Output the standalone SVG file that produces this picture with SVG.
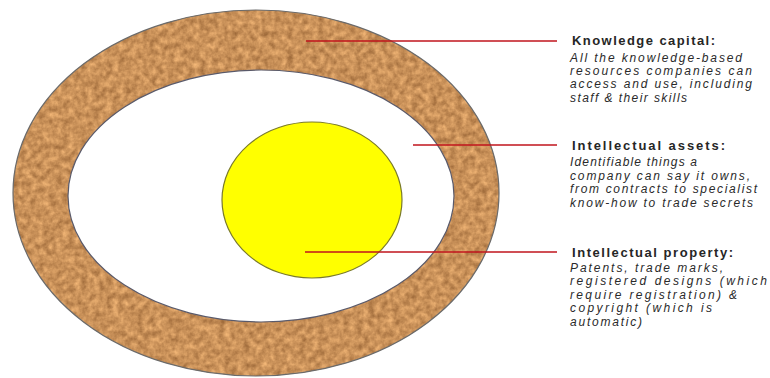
<svg xmlns="http://www.w3.org/2000/svg" width="770" height="378" viewBox="0 0 770 378">
<style>
.title{font-family:"Liberation Sans",Arial,sans-serif;font-size:13px;font-weight:bold;fill:#262626}
.desc{font-family:"Liberation Sans",Arial,sans-serif;font-size:12px;font-style:italic;fill:#2a2a2a}
.conn{stroke:#c0141c;stroke-width:1.5;fill:none}
</style>
<defs>
<filter id="cork" x="0" y="0" width="100%" height="100%" color-interpolation-filters="sRGB">
<feTurbulence type="fractalNoise" baseFrequency="0.16" numOctaves="3" seed="4" result="n"/>
<feColorMatrix in="n" type="matrix" values="0.42 0 0 0 0.58  0.38 0 0 0 0.38  0.3 0 0 0 0.2  0 0 0 0 1" result="c"/>
<feComposite in="c" in2="SourceGraphic" operator="in"/>
</filter>
</defs>
<rect width="770" height="378" fill="#ffffff"/>
<g id="knowledge-capital">
<ellipse cx="256" cy="193" rx="243" ry="183" fill="#c8915e"/>
<ellipse cx="256" cy="193" rx="243" ry="183" fill="#c8915e" filter="url(#cork)"/>
<ellipse cx="256" cy="193" rx="243" ry="183" fill="none" stroke="#6b6b6b" stroke-width="1.2"/>
</g>
<g id="intellectual-assets">
<ellipse cx="261" cy="196" rx="193" ry="126" fill="#ffffff" stroke="#5a5a6a" stroke-width="1.2"/>
</g>
<g id="intellectual-property">
<ellipse cx="312" cy="200" rx="90" ry="78" fill="#ffff00" stroke="#7a7a2a" stroke-width="1.2"/>
</g>
<g id="connectors">
<line class="conn" x1="306" y1="41" x2="557" y2="41"/>
<line class="conn" x1="413" y1="145" x2="557" y2="145"/>
<line class="conn" x1="305" y1="252" x2="557" y2="252"/>
</g>
<g id="label-knowledge-capital">
<text class="title" x="572" y="45" textLength="143" lengthAdjust="spacing">Knowledge capital:</text>
<text class="desc" x="570" y="62" textLength="172" lengthAdjust="spacing">All the knowledge-based</text>
<text class="desc" x="570" y="75" textLength="182" lengthAdjust="spacing">resources companies  can</text>
<text class="desc" x="570" y="88" textLength="182" lengthAdjust="spacing">access and use, including</text>
<text class="desc" x="570" y="102" textLength="117" lengthAdjust="spacing">staff &amp; their skills</text>
</g>
<g id="label-intellectual-assets">
<text class="title" x="572" y="150" textLength="153" lengthAdjust="spacing">Intellectual assets:</text>
<text class="desc" x="570" y="166" textLength="127" lengthAdjust="spacing">Identifiable things a</text>
<text class="desc" x="570" y="180" textLength="180" lengthAdjust="spacing">company can say it owns,</text>
<text class="desc" x="570" y="193" textLength="187" lengthAdjust="spacing">from contracts to specialist</text>
<text class="desc" x="570" y="207" textLength="183" lengthAdjust="spacing">know-how to trade secrets</text>
</g>
<g id="label-intellectual-property">
<text class="title" x="572" y="257" textLength="161" lengthAdjust="spacing">Intellectual property:</text>
<text class="desc" x="570" y="272" textLength="153" lengthAdjust="spacing">Patents, trade marks,</text>
<text class="desc" x="570" y="285" textLength="197" lengthAdjust="spacing">registered designs (which</text>
<text class="desc" x="570" y="299" textLength="167" lengthAdjust="spacing">require registration) &amp;</text>
<text class="desc" x="570" y="312" textLength="142" lengthAdjust="spacing">copyright (which is</text>
<text class="desc" x="570" y="326" textLength="72" lengthAdjust="spacing">automatic)</text>
</g>
</svg>
